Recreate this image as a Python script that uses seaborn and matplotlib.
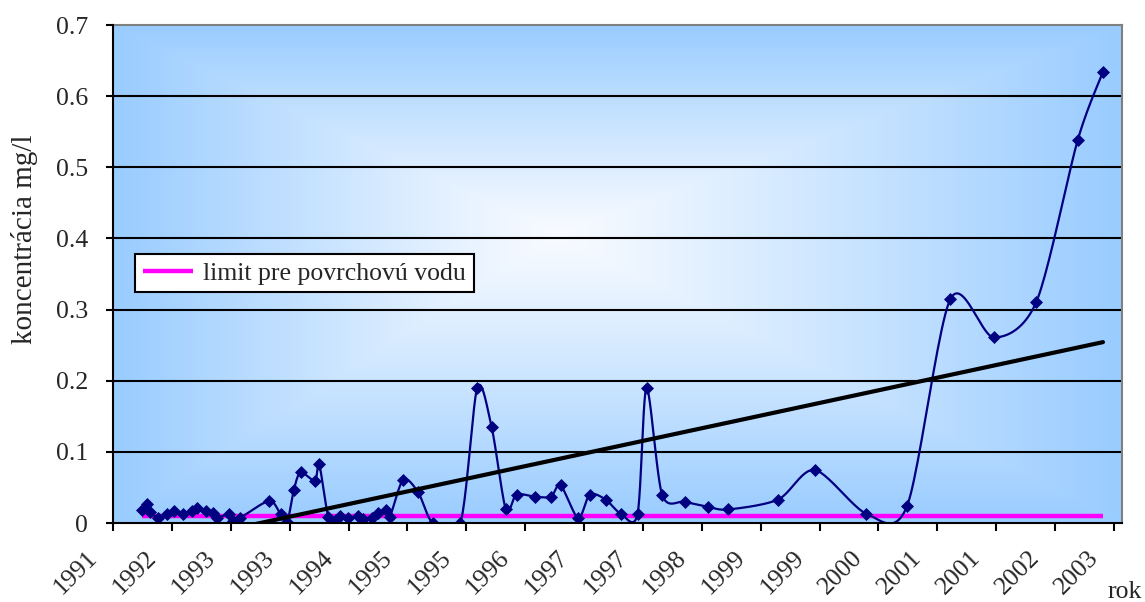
import numpy as np
import pandas as pd
import matplotlib
matplotlib.use("Agg")
import matplotlib.pyplot as plt
import matplotlib.transforms as mtransforms
from matplotlib.ticker import FuncFormatter
import seaborn as sns

# sampling dates (decimal years) and measured concentration in mg/l
years = [1992.014, 1992.072, 1992.110, 1992.206, 1992.304, 1992.389, 1992.497, 1992.595,
         1992.653, 1992.761, 1992.839, 1992.892, 1993.032, 1993.078, 1993.156, 1993.496,
         1993.629, 1993.706, 1993.783, 1993.861, 1994.027, 1994.077, 1994.182, 1994.272,
         1994.318, 1994.414, 1994.531, 1994.589, 1994.686, 1994.763, 1994.853, 1994.899,
         1995.054, 1995.228, 1995.399, 1995.718, 1995.914, 1996.081, 1996.247, 1996.371,
         1996.584, 1996.770, 1996.883, 1997.087, 1997.223, 1997.406, 1997.584, 1997.778,
         1997.882, 1998.063, 1998.327, 1998.591, 1998.830, 1999.412, 1999.838, 2000.439,
         2000.911, 2001.415, 2001.918, 2002.414, 2002.894, 2003.188]
conc = [0.018, 0.027, 0.016, 0.007, 0.013, 0.017, 0.013, 0.017,
        0.021, 0.017, 0.014, 0.007, 0.013, 0.003, 0.007, 0.031,
        0.012, 0.002, 0.047, 0.071, 0.0595, 0.0825, 0.009, 0.004,
        0.010, 0.007, 0.010, 0.006, 0.007, 0.014, 0.018, 0.009,
        0.061, 0.043, 0.0, 0.0, 0.190, 0.135, 0.019, 0.040,
        0.037, 0.037, 0.053, 0.007, 0.040, 0.033, 0.013, 0.013,
        0.190, 0.040, 0.030, 0.023, 0.019, 0.033, 0.0745, 0.013,
        0.024, 0.315, 0.261, 0.311, 0.538, 0.634]
limit_value = 0.01
limit_label = 'limit pre povrchovú vodu'

# x axis: date axis with a major unit of 250 days, labels shown as yyyy
tick_start = 1991.68
tick_step = 250 / 365.25
tick_labels = ['1991', '1992', '1993', '1993', '1994', '1995', '1995', '1996', '1997',
               '1997', '1998', '1999', '1999', '2000', '2001', '2001', '2002', '2003']

df = pd.DataFrame({'rok': years, 'konc': conc})

sns.set_style('white')
plt.rcParams['font.family'] = ['Liberation Serif', 'DejaVu Serif']

fig = plt.figure(figsize=(11.45, 6.02), dpi=100)
ax = fig.add_axes([113 / 1145, 79 / 602, 1009 / 1145, 498 / 602])

xticks = tick_start + tick_step * np.arange(len(tick_labels))
xmax = tick_start + tick_step * (1009 / 58.88)
ax.set_xlim(tick_start, xmax)
ax.set_ylim(0, 0.7)

# background: gradient from the centre, light blue at the edges
gx = np.linspace(0, 1, 500)
gy = np.linspace(1, 0, 300)
GX, GY = np.meshgrid(gx, gy)
cx, cy = 0.44, 0.58
dx = np.where(GX > cx, (GX - cx) / (1 - cx), (cx - GX) / cx)
dy = np.where(GY > cy, (GY - cy) / (1 - cy), (cy - GY) / cy)
t = np.clip(np.maximum(dx, dy), 0, 1) ** 1.1
c_in = np.array([248, 251, 255]) / 255
c_out = np.array([153, 204, 255]) / 255
img = c_in[None, None, :] * (1 - t[..., None]) + c_out[None, None, :] * t[..., None]
ax.imshow(img, extent=[0, 1, 0, 1], transform=ax.transAxes, aspect='auto',
          zorder=0, interpolation='bilinear')


def excel_smooth(xd, yd, n=24):
    pts = ax.transData.transform(np.column_stack([xd, yd]))
    out = [pts[0]]
    tt = np.linspace(0, 1, n)[1:, None]
    for i in range(len(pts) - 1):
        p0 = pts[i - 1] if i > 0 else pts[i]
        p1, p2 = pts[i], pts[i + 1]
        p3 = pts[i + 2] if i + 2 < len(pts) else pts[i + 1]
        c1 = p1 + (p2 - p0) / 7
        c2 = p2 - (p3 - p1) / 7
        seg = ((1 - tt) ** 3 * p1 + 3 * (1 - tt) ** 2 * tt * c1
               + 3 * (1 - tt) * tt ** 2 * c2 + tt ** 3 * p2)
        out.extend(seg)
    return ax.transData.inverted().transform(np.array(out))


# limit line
lim_line, = ax.plot([years[0], years[-1]], [limit_value, limit_value],
                    color='#FF00FF', lw=3.2, zorder=2, solid_capstyle='butt')

# smoothed measurement line with diamond markers
sm = excel_smooth(df['rok'].values, df['konc'].values)
ax.plot(sm[:, 0], sm[:, 1], color='#000080', lw=1.6, zorder=3)
sns.scatterplot(data=df, x='rok', y='konc', marker='D', s=44, color='#000080',
                edgecolor='#000080', linewidth=0, zorder=3.5, ax=ax)

# linear trend
sns.regplot(data=df, x='rok', y='konc', scatter=False, ci=None, truncate=True,
            color='black', line_kws={'lw': 3, 'zorder': 4}, ax=ax)

ax.set_xlim(tick_start, xmax)
ax.set_ylim(0, 0.7)

ax.set_yticks(np.arange(0, 0.71, 0.1))
ax.yaxis.set_major_formatter(FuncFormatter(lambda v, _: f'{v:g}'))
ax.set_xticks(xticks)
ax.set_xticklabels(tick_labels, rotation=45, ha='right', va='center',
                   rotation_mode='anchor')

ax.grid(axis='y', color='black', lw=1.5, zorder=1)
ax.grid(axis='x', visible=False)
ax.yaxis.get_gridlines()[-1].set_visible(False)
ax.yaxis.get_gridlines()[0].set_visible(False)

ax.tick_params(axis='y', direction='out', length=5, width=1.5, pad=13,
               labelsize=18.5, color='black', left=True)
ax.tick_params(axis='x', direction='out', length=5.8, width=1.5, pad=17,
               labelsize=18.5, color='black', bottom=True)

offset = mtransforms.ScaledTranslation(-19 / 100, 0, fig.dpi_scale_trans)
for lab in ax.get_xticklabels():
    lab.set_transform(lab.get_transform() + offset)

for side in ['left', 'bottom']:
    ax.spines[side].set_color('black')
    ax.spines[side].set_linewidth(1.5)
    ax.spines[side].set_zorder(5)
for side in ['top', 'right']:
    ax.spines[side].set_color('#808080')
    ax.spines[side].set_linewidth(1.5)

ax.set_xlabel('')
ax.set_ylabel('koncentrácia mg/l', fontsize=21)
ax.yaxis.set_label_coords(-0.0745, 0.57)

fig.text(1107 / 1145, 4 / 602, 'rok', fontsize=18.5, ha='left', va='baseline')

leg = ax.legend(handles=[lim_line], labels=[limit_label], loc='upper left',
                bbox_to_anchor=(0.022, 0.54), frameon=True, fancybox=False,
                framealpha=1, edgecolor='black', fontsize=18.5, borderpad=0.3,
                handlelength=1.95, handletextpad=0.4, borderaxespad=0)
leg.get_frame().set_linewidth(1.5)
leg.set_zorder(6)

fig.savefig('out.png', dpi=100)
